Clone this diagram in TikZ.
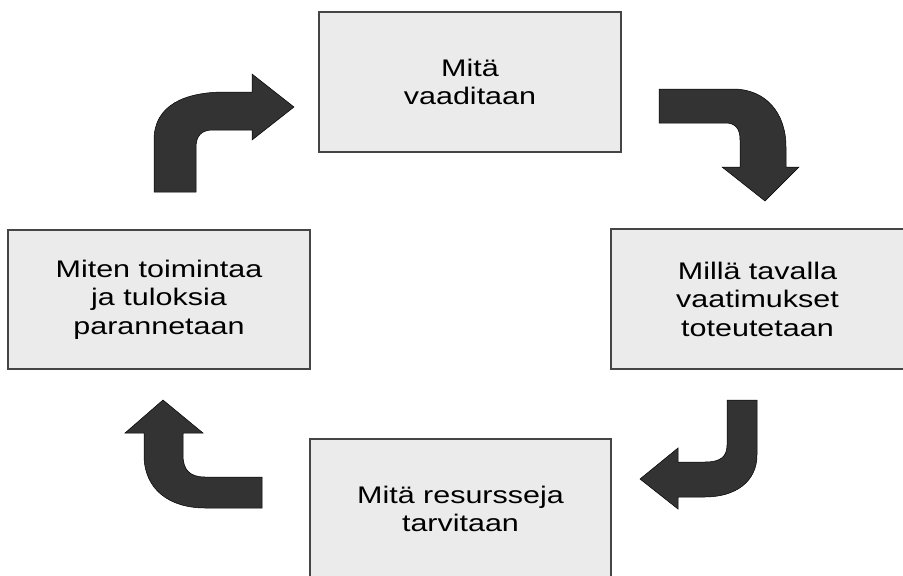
\documentclass[tikz,border=0pt]{standalone}
\usepackage{fontspec}
\setmainfont{Liberation Sans}
\newfontfamily\stagefont[FakeStretch=1.27]{Liberation Sans}
\definecolor{boxfill}{HTML}{EBEBEB}
\definecolor{boxline}{HTML}{454545}
\definecolor{arrowfill}{HTML}{333333}
\begin{document}
\begin{tikzpicture}[x=1pt,y=-1pt,
  stage/.style={draw=boxline,line width=1.3pt,fill=boxfill,inner sep=0pt,
    align=center,font=\stagefont\fontsize{24}{28.5}\selectfont},
  bentarrow/.style={fill=arrowfill,draw=black,line width=0.5pt,line join=miter}]
\useasboundingbox (0,0) rectangle (903,576);
\begin{scope}
\clip (0,0) rectangle (903,576);
% the four stages of the cycle
\node[stage,minimum width=302pt,minimum height=140pt] (req) at (470,82) {Mitä\\vaaditaan};
\node[stage,minimum width=293pt,minimum height=140pt] (how) at (757.5,299) {Millä tavalla\\vaatimukset\\toteutetaan};
\node[stage,minimum width=301pt,minimum height=140pt] (res) at (460.5,509) {Mitä resursseja\\tarvitaan};
\node[stage,minimum width=302pt,minimum height=139pt] (imp) at (159,299.5) {Miten toimintaa\\ja tuloksia\\parannetaan};
\end{scope}
% bent arrows leading from one stage to the next
\path[bentarrow] (154,192) -- (154,140) .. controls (154,105) and (185,92) .. (225,92)
  -- (252,92) -- (252,74) -- (294,107) -- (252,140) -- (252,130) -- (213,130)
  .. controls (201,130) and (196,136) .. (196,148) -- (196,192) -- cycle;
\path[bentarrow] (659,89) -- (733,89) .. controls (765,89) and (786,112) .. (786,147)
  -- (786,167) -- (799,167) -- (765,201) -- (722,167) -- (740,167) -- (740,140)
  .. controls (740,128) and (735,123) .. (725,123) -- (659,123) -- cycle;
\path[bentarrow] (727,400) -- (757,400) -- (757,455) .. controls (757,482) and (735,497) .. (705,497)
  -- (678,497) -- (678,509) -- (640,479) -- (678,448) -- (678,462) -- (705,462)
  .. controls (720,462) and (727,457) .. (727,445) -- cycle;
\path[bentarrow] (262,477) -- (205,477) .. controls (190,477) and (183,470) .. (183,455)
  -- (183,433) -- (203,433) -- (163,400) -- (125,433) -- (144,433) -- (144,455)
  .. controls (144,490) and (170,508) .. (205,508) -- (262,508) -- cycle;
\end{tikzpicture}
\end{document}
